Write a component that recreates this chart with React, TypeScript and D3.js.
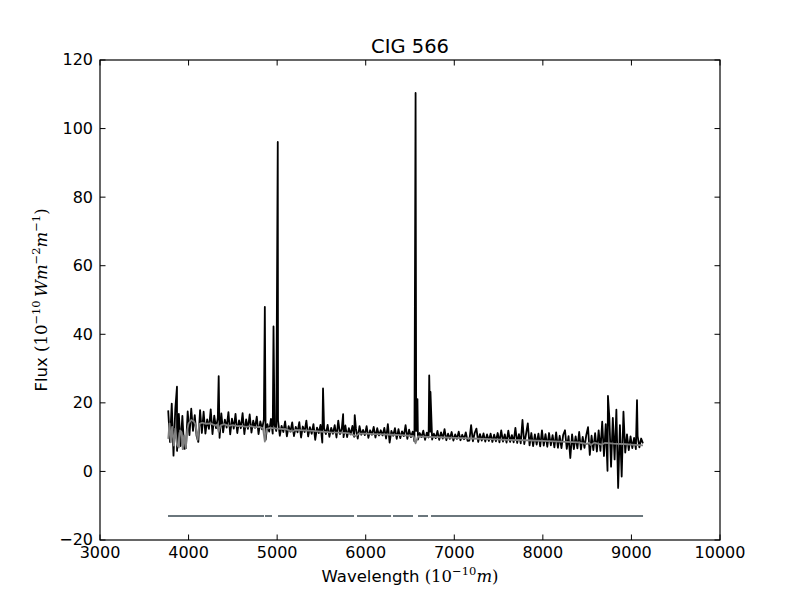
import React from 'react'
import * as d3 from 'd3'

// observed spectrum, sampled every 20 A from 3770 A
const specStart = 3770
const specStep = 20
const specFlux = [
  17.8, 8.6, 19.8, 4.6, 18.2, 6.0, 16.8, 7.4, 16.2, 6.6,
  6.8, 17.5, 10.6, 18.3, 11.8, 16.4, 10.4, 8.6, 17.9, 11.2,
  17.4, 11.0, 15.2, 12.4, 18.1, 10.9, 16.3, 12.6, 15.6, 9.8,
  16.9, 11.4, 15.1, 12.8, 17.3, 10.8, 15.4, 12.5, 16.8, 11.2,
  14.9, 12.6, 17.0, 10.9, 15.2, 12.4, 16.6, 11.3, 14.8, 12.7,
  16.0, 10.9, 14.6, 12.3, 15.2, 9.2, 13.8, 11.6, 15.3, 11.0,
  13.6, 11.8, 14.9, 10.4, 13.3, 11.5, 14.6, 10.2, 13.2, 11.6,
  14.3, 10.3, 13.0, 11.4, 14.4, 9.9, 13.1, 11.5, 14.8, 10.2,
  12.9, 11.0, 13.8, 9.2, 12.8, 11.2, 13.6, 8.4, 12.6, 10.9,
  13.6, 10.1, 12.7, 11.0, 13.5, 9.9, 14.8, 10.9, 12.5, 10.0,
  13.4, 10.0, 12.6, 10.8, 13.3, 10.1, 12.4, 9.6, 13.2, 10.7,
  12.1, 10.6, 13.2, 9.8, 12.0, 10.7, 13.0, 9.9, 12.6, 10.5,
  12.0, 10.5, 12.7, 9.6, 13.8, 8.4, 11.8, 10.4, 12.6, 9.5,
  12.3, 9.7, 11.7, 10.3, 13.5, 9.5, 12.2, 10.0, 11.6, 8.8,
  11.8, 9.3, 11.2, 10.0, 11.9, 9.2, 11.3, 9.9, 11.6, 9.3,
  11.0, 9.7, 11.8, 9.2, 11.4, 9.6, 12.3, 9.1, 11.0, 9.5,
  11.5, 9.0, 10.8, 9.5, 11.6, 9.1, 10.7, 9.4, 11.4, 8.9,
  9.0, 13.5, 8.8, 11.2, 12.5, 8.6, 10.9, 9.0, 11.1, 8.7,
  10.8, 8.9, 11.0, 8.6, 10.7, 8.8, 11.2, 8.5, 12.0, 8.7,
  10.8, 8.4, 11.9, 8.6, 10.6, 8.5, 12.7, 8.3, 10.9, 8.2,
  15.0, 8.0, 10.9, 14.0, 7.6, 11.2, 7.4, 10.8, 7.8, 11.0,
  7.3, 12.0, 7.5, 10.9, 7.2, 11.2, 7.6, 10.6, 7.0, 11.4,
  6.9, 10.4, 6.8, 10.7, 12.0, 6.6, 10.3, 3.9, 10.8, 6.5,
  10.2, 6.7, 11.5, 6.4, 10.1, 6.9, 10.6, 12.9, 4.8, 10.4,
  6.2, 11.2, 5.8, 12.0, 6.0, 14.5, 4.5, 13.8, 0.2, 16.0,
  1.4, 15.6, 3.5, 18.0, -4.8, 13.5, -1.5, 17.4, 5.5, 10.8,
  6.2, 10.2, 6.8, 9.8, 6.5, 10.3, 7.0, 9.6, 8.2,
]

// emission lines (wavelength, peak flux)
const lineWave = [3869, 4340, 4861, 4959, 5007, 5518, 5745, 5876, 6563, 6584, 6717, 6731, 8735, 9063]
const linePeak = [24.7, 27.8, 48.0, 42.3, 96.1, 24.2, 16.7, 16.4, 110.4, 21.1, 28.0, 23.2, 22.0, 20.8]

// fitted model spectrum
const modelWave = [
  3770, 3785, 3800, 3815, 3835, 3850, 3870, 3890, 3905, 3920, 3934, 3950, 3969, 3985,
  4000, 4030, 4060, 4080, 4102, 4120, 4150, 4200, 4250, 4300, 4320, 4340, 4360, 4400,
  4450, 4500, 4550, 4600, 4650, 4700, 4750, 4800, 4840, 4861, 4880, 4920, 5000, 5100,
  5175, 5200, 5300, 5400, 5500, 5600, 5700, 5800, 5890, 5920, 6000, 6100, 6200, 6300,
  6400, 6500, 6540, 6563, 6590, 6700, 6800, 6900, 7000, 7200, 7400, 7600, 7800, 8000,
  8200, 8400, 8498, 8520, 8542, 8580, 8662, 8700, 8800, 8900, 9000, 9130,
]
const modelFlux = [
  9.5, 14.0, 8.5, 13.0, 7.5, 12.5, 7.8, 7.0, 12.0, 11.5, 6.5, 10.5, 6.8, 12.0,
  14.0, 15.0, 14.6, 13.5, 9.2, 13.8, 14.2, 13.9, 14.0, 13.4, 13.6, 11.5, 13.4, 13.8,
  13.3, 13.5, 13.2, 13.3, 13.0, 13.2, 12.9, 13.0, 12.6, 8.7, 12.4, 12.7, 12.5, 12.3,
  11.6, 12.1, 12.0, 11.8, 11.6, 11.4, 11.3, 11.2, 10.3, 11.0, 11.0, 10.9, 10.8, 10.7,
  10.6, 10.4, 10.3, 8.2, 10.2, 10.1, 10.0, 9.9, 9.8, 9.6, 9.4, 9.2, 9.1, 8.9,
  8.7, 8.5, 8.0, 8.4, 7.7, 8.4, 7.8, 8.3, 8.1, 8.0, 7.8, 7.6,
]

// masked-region segments drawn below the spectrum
const maskStart = [3768, 4863, 5010, 5902, 6308, 6590, 6737]
const maskEnd = [4852, 4942, 5868, 6286, 6534, 6703, 9131]
const maskLevel = -13

const xTicks = [3000, 4000, 5000, 6000, 7000, 8000, 9000, 10000]
const yTicks = [-20, 0, 20, 40, 60, 80, 100, 120]

export default function App() {
  const W = 800
  const H = 600
  const [left, right, top, bottom] = [100, 720, 60, 540]

  const x = d3.scaleLinear().domain([3000, 10000]).range([left, right])
  const y = d3.scaleLinear().domain([-20, 120]).range([bottom, top])

  const specPts: [number, number][] = specFlux.map((f, i) => [specStart + i * specStep, f])
  lineWave.forEach((w, i) => specPts.push([w, linePeak[i]]))
  specPts.sort((a, b) => a[0] - b[0])

  const modelPts: [number, number][] = modelWave.map((w, i) => [w, modelFlux[i]])

  const line = d3.line<[number, number]>()
    .x(d => x(d[0]))
    .y(d => y(d[1]))

  const tickLen = 5.5
  const sans = 'DejaVu Sans'
  const serif = 'DejaVu Serif'
  const fs = 16

  return (
    <svg width={W} height={H} style={{ position: 'absolute', left: 0, top: 0, background: '#fff' }}>
      <rect x={0} y={0} width={W} height={H} fill="#fff" />
      <defs>
        <clipPath id="plot-clip">
          <rect x={left} y={top} width={right - left} height={bottom - top} />
        </clipPath>
      </defs>

      <g clipPath="url(#plot-clip)">
        <path d={line(specPts) || ''} fill="none" stroke="#000" strokeWidth={1.8} strokeLinejoin="round" />
        <path d={line(modelPts) || ''} fill="none" stroke="#808080" strokeWidth={1.8} strokeLinejoin="round" />
        {maskStart.map((s, i) => (
          <line key={i} x1={x(s)} x2={x(maskEnd[i])} y1={y(maskLevel)} y2={y(maskLevel)}
            stroke="#6a767c" strokeWidth={2} />
        ))}
      </g>

      {/* frame */}
      <rect x={left} y={top} width={right - left} height={bottom - top} fill="none" stroke="#000" strokeWidth={1.2} />

      {/* x ticks */}
      {xTicks.map(t => (
        <g key={'x' + t}>
          <line x1={x(t)} x2={x(t)} y1={bottom} y2={bottom - tickLen} stroke="#000" strokeWidth={1} />
          <line x1={x(t)} x2={x(t)} y1={top} y2={top + tickLen} stroke="#000" strokeWidth={1} />
          <text x={x(t)} y={558} textAnchor="middle" fontFamily={sans} fontSize={fs}>{t}</text>
        </g>
      ))}

      {/* y ticks */}
      {yTicks.map(t => (
        <g key={'y' + t}>
          <line x1={left} x2={left + tickLen} y1={y(t)} y2={y(t)} stroke="#000" strokeWidth={1} />
          <line x1={right} x2={right - tickLen} y1={y(t)} y2={y(t)} stroke="#000" strokeWidth={1} />
          <text x={93} y={y(t)} dy="0.34em" textAnchor="end" fontFamily={sans} fontSize={fs}>
            {t < 0 ? '\u2212' + Math.abs(t) : t}
          </text>
        </g>
      ))}

      {/* title */}
      <text x={(left + right) / 2} y={53} textAnchor="middle" fontFamily={sans} fontSize={19.5}>CIG 566</text>

      {/* x label */}
      <text x={(left + right) / 2} y={582} textAnchor="middle" fontFamily={sans} fontSize={16.5}>
        Wavelength{' '}
        <tspan fontFamily={serif}>(10</tspan>
        <tspan fontFamily={serif} fontSize={11.5} dy={-7}>{'\u221210'}</tspan>
        <tspan fontFamily={serif} fontStyle="italic" dy={7}>m</tspan>
        <tspan fontFamily={serif}>)</tspan>
      </text>

      {/* y label */}
      <text transform={`translate(47,${(top + bottom) / 2}) rotate(-90)`} textAnchor="middle" fontFamily={sans} fontSize={16.5}>
        Flux{' '}
        <tspan fontFamily={serif}>(10</tspan>
        <tspan fontFamily={serif} fontSize={11.5} dy={-7}>{'\u221210'}</tspan>
        <tspan fontFamily={serif} fontStyle="italic" dy={7}>{'\u2009Wm'}</tspan>
        <tspan fontFamily={serif} fontSize={11.5} dy={-7}>{'\u22122'}</tspan>
        <tspan fontFamily={serif} fontStyle="italic" dy={7}>m</tspan>
        <tspan fontFamily={serif} fontSize={11.5} dy={-7}>{'\u22121'}</tspan>
        <tspan fontFamily={serif} dy={7}>)</tspan>
      </text>
    </svg>
  )
}
